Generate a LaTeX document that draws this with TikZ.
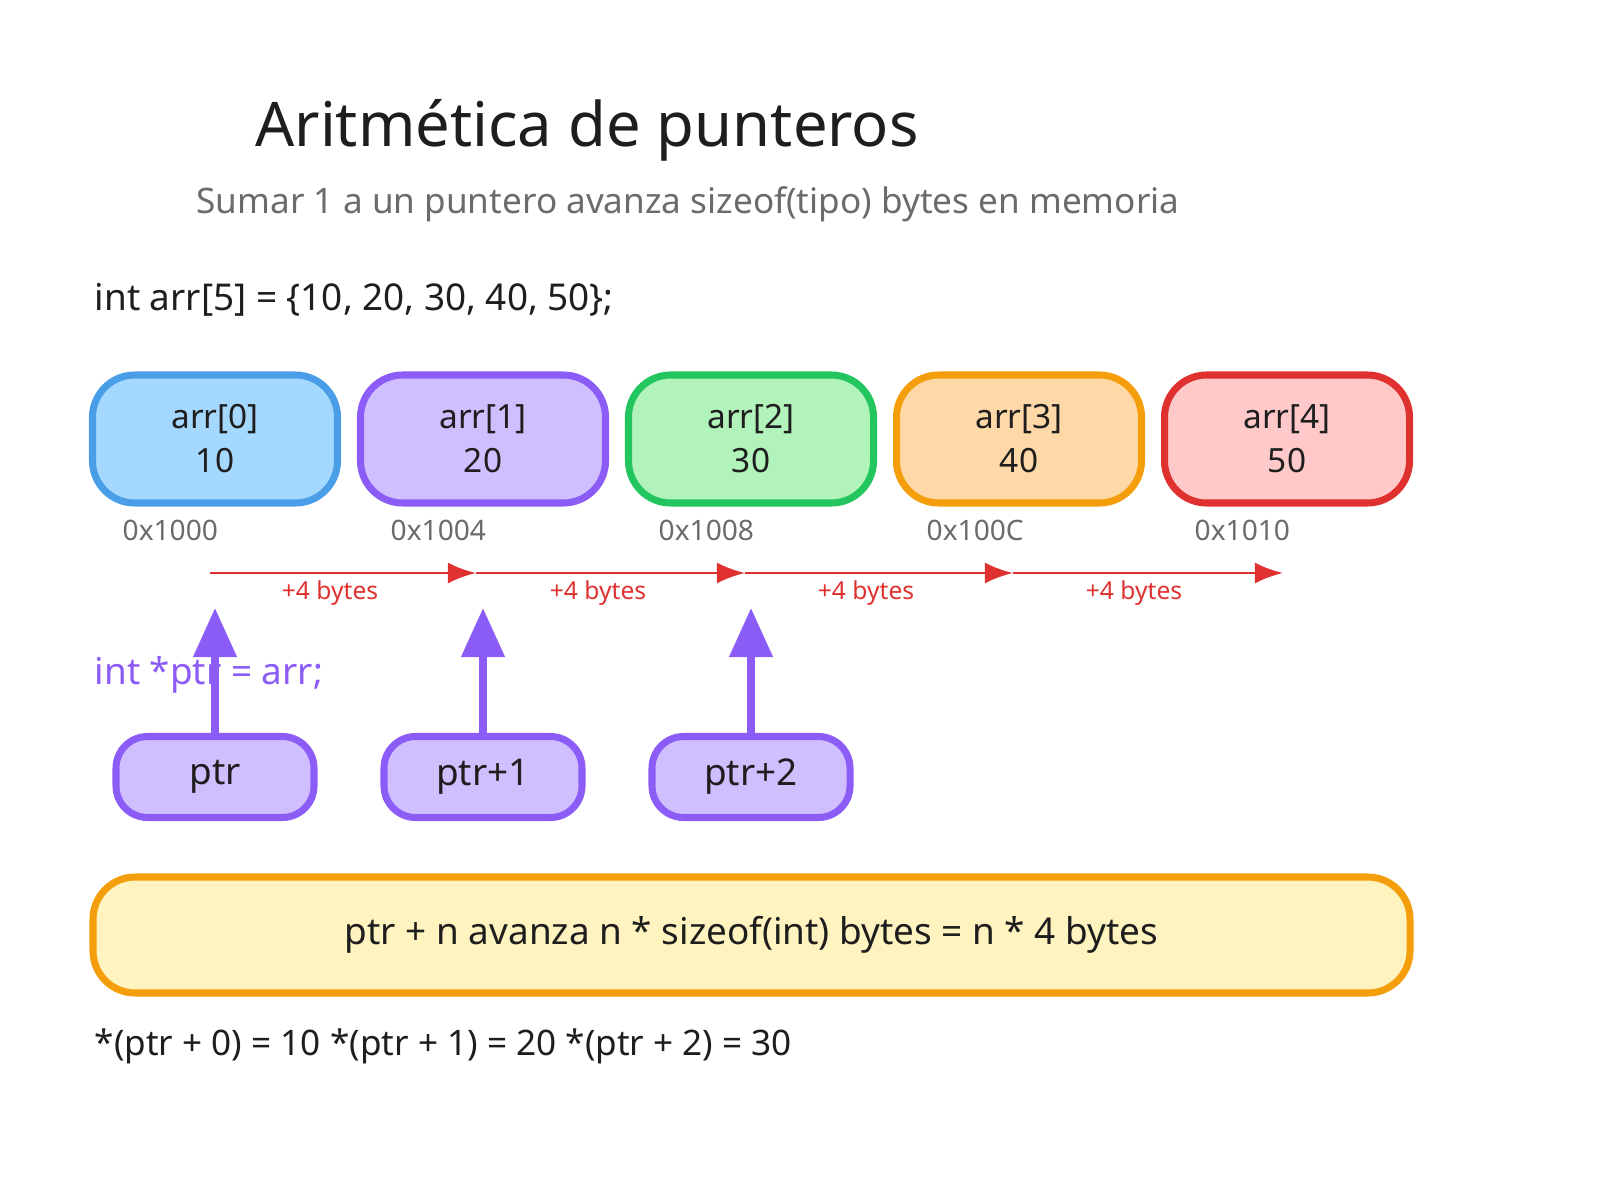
\documentclass[tikz,border=0pt]{standalone}
\usepackage{fontspec}
\setmainfont{Noto Sans}
\usetikzlibrary{arrows.meta}
\definecolor{ink}{HTML}{1E1E1E}
\definecolor{grey}{HTML}{6B6B6B}
\definecolor{redl}{HTML}{E03131}
\definecolor{purd}{HTML}{8B5CF6}
\definecolor{purf}{HTML}{D0BFFF}
\definecolor{yelf}{HTML}{FFF3C0}
\definecolor{oran}{HTML}{F59E0B}
\tikzset{
  cell/.style={rounded corners=12pt, line width=2pt, minimum width=2.45cm, minimum height=1.28cm, align=center, font=\fontsize{9.5}{12.5}\selectfont, text=ink},
  ptrbox/.style={rounded corners=9pt, line width=2pt, draw=purd, fill=purf, minimum width=1.98cm, minimum height=0.81cm, font=\fontsize{10.5}{13}\selectfont, text=ink},
  addrstep/.style={redl, line width=0.8pt, -{Latex[length=8pt,width=6pt]}},
  up/.style={purd, line width=2.2pt, -{Triangle[length=14pt,width=12pt]}}
}
\begin{document}
\begin{tikzpicture}
\useasboundingbox (0,0) rectangle (16,12);
\node[font=\fontsize{17.5}{20}\selectfont, text=ink] (title) at (5.87,10.7) {Aritmética de punteros};
\node[font=\fontsize{10}{12}\selectfont, text=grey] (sub) at (6.88,9.96) {Sumar 1 a un puntero avanza sizeof(tipo) bytes en memoria};
\node[anchor=west, font=\fontsize{10.5}{13}\selectfont, text=ink, inner sep=0] (decl) at (0.94,9.0) {int arr[5] = \{10, 20, 30, 40, 50\};};

% array cells
\foreach \i/\v/\dc/\fc/\ad in {0/10/4A9EE8/A5D8FF/0x1000, 1/20/8B5CF6/D0BFFF/0x1004, 2/30/22C55E/B2F2BB/0x1008, 3/40/F59E0B/FFD8A8/0x100C, 4/50/E03131/FFC9C9/0x1010}{
  \definecolor{dc}{HTML}{\dc}\definecolor{fc}{HTML}{\fc}
  \node[cell, draw=dc, fill=fc] (c\i) at (2.15+2.68*\i,7.61) {arr[\i]\\\v};
  \node[anchor=west, font=\fontsize{8}{10}\selectfont, text=grey, inner sep=0] (ad\i) at (1.22+2.68*\i,6.70) {\ad};
}

% address steps
\coordinate (s0) at (2.10,6.27);
\coordinate (s1) at (4.76,6.27);
\coordinate (s2) at (7.45,6.27);
\coordinate (s3) at (10.13,6.27);
\coordinate (s4) at (12.83,6.27);
\draw[addrstep] (s0) -- (s1);
\draw[addrstep] (s1) -- (s2);
\draw[addrstep] (s2) -- (s3);
\draw[addrstep] (s3) -- (s4);
\foreach \i in {0,...,3}{
  \node[text=redl, font=\fontsize{7}{9}\selectfont] (b\i) at (3.30+2.68*\i,6.07) {+4 bytes};
}

\node[anchor=west, text=purd, font=\fontsize{10.5}{13}\selectfont, inner sep=0] (decl2) at (0.94,5.25) {int *ptr = arr;};

% pointers
\node[ptrbox] (p0) at (2.15,4.23) {ptr};
\node[ptrbox] (p1) at (4.83,4.23) {ptr+1};
\node[ptrbox] (p2) at (7.51,4.23) {ptr+2};
\foreach \i in {0,1,2}{
  \coordinate (t\i) at (2.15+2.68*\i,5.92);
  \draw[up] (p\i) -- (t\i);
}

\node[rounded corners=12pt, line width=2pt, draw=oran, fill=yelf, minimum width=13.17cm, minimum height=1.16cm, font=\fontsize{10.5}{13}\selectfont, text=ink] (rule) at (7.515,2.65) {ptr + n avanza n * sizeof(int) bytes = n * 4 bytes};
\node[anchor=west, font=\fontsize{10}{13}\selectfont, text=ink, inner sep=0] (res) at (0.94,1.54) {*(ptr + 0) = 10 *(ptr + 1) = 20 *(ptr + 2) = 30};
\end{tikzpicture}
\end{document}
